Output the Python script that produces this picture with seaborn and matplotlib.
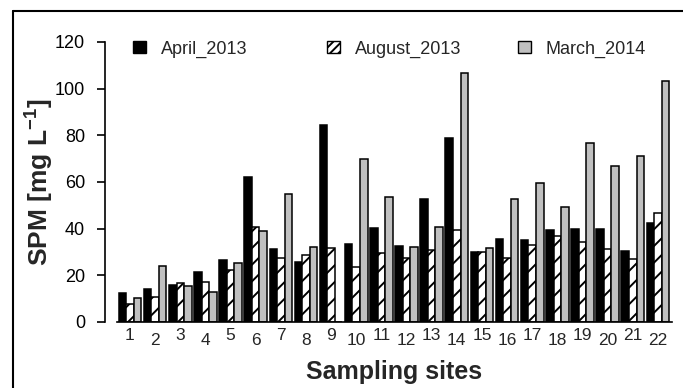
import matplotlib
matplotlib.use("Agg")
import matplotlib.pyplot as plt
import matplotlib.patches as mpatches
from matplotlib.lines import Line2D
import seaborn as sns
import pandas as pd

sites = [str(i) for i in range(1, 23)]
campaigns = ["April_2013", "August_2013", "March_2014"]
april_2013 = [12.3, 14.0, 15.7, 21.3, 26.6, 62.3, 31.1, 25.7, 84.6, 33.3, 40.1,
              32.7, 52.7, 79.0, 30.0, 35.4, 35.0, 39.3, 39.9, 39.9, 30.6, 42.4]
august_2013 = [7.7, 10.9, 16.6, 17.3, 22.3, 40.7, 27.6, 28.7, 31.9, 23.4, 29.6,
               27.6, 31.0, 39.3, 30.0, 27.3, 33.0, 37.0, 34.3, 31.3, 27.1, 46.7]
march_2014 = [10.1, 24.1, 15.4, 12.7, 25.3, 38.9, 55.0, 32.3, 0.0, 70.0, 53.7,
              32.1, 40.9, 106.7, 31.6, 52.9, 59.6, 49.1, 76.7, 67.0, 71.1, 103.3]
yticks = [0, 20, 40, 60, 80, 100, 120]

colors = ["#000000", "#ffffff", "#c0c0c0"]

sns.set_style("white")
plt.rcParams["font.family"] = ["Liberation Sans", "DejaVu Sans"]
plt.rcParams["hatch.linewidth"] = 1.4
plt.rcParams["mathtext.fontset"] = "custom"
plt.rcParams["mathtext.rm"] = "Liberation Sans:bold"
plt.rcParams["mathtext.bf"] = "Liberation Sans:bold"

rows = []
for name, vals in zip(campaigns, [april_2013, august_2013, march_2014]):
    for s, v in zip(sites, vals):
        rows.append({"site": s, "SPM": v, "campaign": name})
df = pd.DataFrame(rows)

fig = plt.figure(figsize=(6.83, 3.88), dpi=100)
W, H = 683, 388
ax = fig.add_axes([117 / W, 66 / H, (672 - 117) / W, 280 / H])

sns.barplot(data=df, x="site", y="SPM", hue="campaign", order=sites,
            hue_order=campaigns, palette=colors, edgecolor="black",
            linewidth=1.1, width=0.9, legend=False, ax=ax)
for bar in ax.containers[1]:
    bar.set_hatch("//")

ax.set_xlim(-0.517, 21.56)
ax.set_ylim(0, 120)
ax.set_yticks(yticks)
ax.set_yticklabels([str(v) for v in yticks])

for side in ["top", "right"]:
    ax.spines[side].set_visible(False)
ax.spines["left"].set_position(("outward", 9))
for side in ["left", "bottom"]:
    ax.spines[side].set_linewidth(1.2)
    ax.spines[side].set_color("black")

ax.tick_params(axis="y", direction="out", length=6, width=1.2, pad=8, left=True,
               colors="black", labelsize=13)
ax.tick_params(axis="x", length=0, pad=4.5, labelsize=12.5)
for i, lab in enumerate(ax.get_xticklabels()):
    if i % 2 == 1:
        lab.set_y(-0.018)

ax.set_xlabel("Sampling sites", fontsize=18, fontweight="bold")
ax.xaxis.set_label_coords(0.5, -0.135)
ax.set_ylabel(r"SPM [mg L$^{\mathbf{-1}}$]", fontsize=19, fontweight="bold")
ax.yaxis.set_label_coords(-0.112, 0.5)

handles = [
    mpatches.Patch(facecolor=colors[0], edgecolor="black", linewidth=1.0, label=campaigns[0]),
    mpatches.Patch(facecolor=colors[1], edgecolor="black", linewidth=1.0, hatch="////", label=campaigns[1]),
    mpatches.Patch(facecolor=colors[2], edgecolor="black", linewidth=1.0, label=campaigns[2]),
]
for h, x0 in zip(handles, [133, 327, 518]):
    fig.legend(handles=[h], loc="center left", bbox_to_anchor=(x0 / W, 1 - 49 / H),
               frameon=False, fontsize=13, handlelength=0.7, handleheight=0.7,
               handletextpad=0.85, borderpad=0, borderaxespad=0)

# outer frame
fig.add_artist(Line2D([13 / W, 1.0], [1 - 11 / H, 1 - 11 / H], color="black", lw=1.5,
                      transform=fig.transFigure))
fig.add_artist(Line2D([13 / W, 13 / W], [0, 1 - 11 / H], color="black", lw=1.5,
                      transform=fig.transFigure))

fig.savefig("out.png", dpi=100)
